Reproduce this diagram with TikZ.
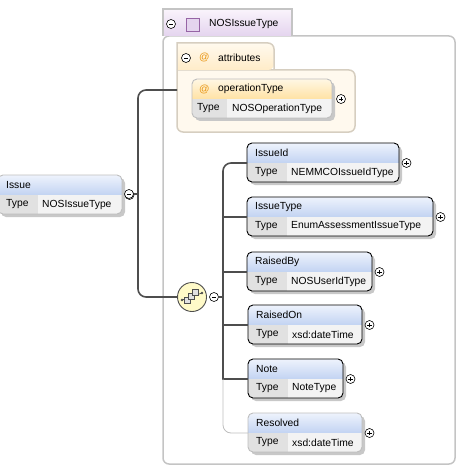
\documentclass[tikz,border=0pt]{standalone}
\usepackage{fontspec}
\setmainfont{Liberation Sans}
\usetikzlibrary{positioning}

\definecolor{hdrtop}{RGB}{238,243,252}
\definecolor{hdrbot}{RGB}{194,211,242}
\definecolor{typecell}{RGB}{225,225,225}
\definecolor{valcell}{RGB}{243,243,243}
\definecolor{shadowgray}{RGB}{200,200,200}
\definecolor{optgray}{RGB}{190,190,190}
\definecolor{connline}{RGB}{78,78,78}
\definecolor{attrtop}{RGB}{255,247,228}
\definecolor{attrbot}{RGB}{255,226,164}
\definecolor{attrtab}{RGB}{255,236,200}
\definecolor{attrfill}{RGB}{255,249,238}
\definecolor{attredge}{RGB}{214,206,192}
\definecolor{atsign}{RGB}{232,150,20}
\definecolor{ctabtop}{RGB}{250,244,252}
\definecolor{ctabbot}{RGB}{228,212,238}
\definecolor{cedge}{RGB}{196,196,196}
\definecolor{seqfill}{RGB}{255,250,200}
\definecolor{iconpurple}{RGB}{150,100,165}

\tikzset{
  conn/.style={connline, line width=1.6pt},
  optconn/.style={optgray, line width=0.8pt},
  lbl/.style={anchor=west, inner sep=0pt, font=\fontsize{10.3}{12}\selectfont},
  toggle/.style={circle, draw, fill=white, inner sep=0pt, minimum size=9pt, line width=0.6pt},
  plusbtn/.style={toggle, path picture={
      \draw[line width=0.6pt] ([xshift=-2.2pt]path picture bounding box.center) -- ([xshift=2.2pt]path picture bounding box.center)
        ([yshift=-2.2pt]path picture bounding box.center) -- ([yshift=2.2pt]path picture bounding box.center);}},
  minusbtn/.style={toggle, path picture={
      \draw[line width=0.6pt] ([xshift=-2.2pt]path picture bounding box.center) -- ([xshift=2.2pt]path picture bounding box.center);}},
}

% element box: name, left, top, right, label, type, border colour
\newcommand{\xelem}[7]{%
  \fill[shadowgray, rounded corners=5pt] (#2+3,#3+3) rectangle (#4+3,#3+42);
  \begin{scope}
    \clip[rounded corners=5pt] (#2,#3) rectangle (#4,#3+39);
    \shade[top color=hdrtop, bottom color=hdrbot] (#2,#3) rectangle (#4,#3+20);
    \fill[typecell] (#2,#3+20) rectangle (#2+40,#3+39);
    \fill[valcell] (#2+40,#3+20) rectangle (#4,#3+39);
  \end{scope}
  \draw[#7, line width=0.9pt, rounded corners=5pt] (#2,#3) rectangle (#4,#3+39);
  \node[lbl] (#1-name) at (#2+8,#3+10) {#5};
  \node[lbl] (#1-tl) at (#2+8,#3+29.5) {Type};
  \node[lbl] (#1-type) at (#2+44,#3+29.5) {#6};
  \coordinate (#1) at (#2,#3+20);
  \node[plusbtn] (#1-plus) at (#4+7.5,#3+20) {};
}

\begin{document}
\begin{tikzpicture}[x=1pt, y=-1pt]
\useasboundingbox (0,0) rectangle (458,468);

% === complex type container ===
\draw[cedge, line width=1.5pt, rounded corners=6pt] (163,36) rectangle (455,464);
\shade[top color=ctabtop, bottom color=ctabbot] (163,9) rectangle (292,36);
\draw[cedge, line width=1.5pt] (163,36) -- (163,9) -- (292,9) -- (292,36);
\node[minusbtn] (ctype-min) at (171,24) {};
\draw[iconpurple, fill=ctabbot, line width=0.8pt] (186,18) rectangle (199,31);
\node[lbl] (ctype) at (209,23.5) {NOSIssueType};

% === attributes group ===
\fill[attrfill] (177,70) [rounded corners=6pt] -- (355,70) -- (355,132) -- (177,132) [sharp corners] -- cycle;
\draw[attredge, line width=1.5pt, rounded corners=6pt] (177,70) -- (355,70) -- (355,132) -- (177,132) -- (177,70);
\shade[top color=attrfill, bottom color=attrtab, rounded corners=6pt] (177,70) [sharp corners] -- (177,43) [rounded corners=6pt] -- (274,43) -- (274,70) [sharp corners] -- cycle;
\draw[attredge, line width=1.5pt] (177,70) -- (177,43) [rounded corners=6pt] -- (274,43) -- (274,70);
\node[minusbtn] (attrs-min) at (186,58) {};
\node[lbl, text=atsign] (attrs-at) at (199,57.5) {@};
\node[lbl] (attrs) at (218,57.5) {attributes};
\coordinate (attrin) at (177,90);

% operationType attribute
\fill[shadowgray, rounded corners=5pt] (195,82) rectangle (335,121);
\begin{scope}
  \clip[rounded corners=5pt] (192,79) rectangle (332,118);
  \shade[top color=attrtop, bottom color=attrbot] (192,79) rectangle (332,99);
  \fill[typecell] (192,99) rectangle (227,118);
  \fill[valcell] (227,99) rectangle (332,118);
\end{scope}
\draw[optgray, line width=0.9pt, rounded corners=5pt] (192,79) rectangle (332,118);
\node[lbl, text=atsign] (optype-at) at (199,89) {@};
\node[lbl] (optype-name) at (218,89) {operationType};
\node[lbl] (optype-tl) at (197,108.5) {Type};
\node[lbl] (optype-type) at (232,108.5) {NOSOperationType};
\node[plusbtn] (optype-plus) at (341,99) {};

% === root element ===
\xelem{issue}{-2}{175}{122}{Issue}{NOSIssueType}{optgray}
\node[minusbtn] (issue-min) at (129,194) {};
\coordinate (trunk) at (138,194);

% === sequence compositor ===
\node[circle, draw=connline, line width=0.9pt, fill=seqfill, minimum size=29pt, inner sep=0pt] (seq) at (192,297) {};
\draw[connline, line width=0.7pt] (182,300) -- (202,293);
\fill[connline] (182,300) circle (1.3pt) (202,293) circle (1.3pt);
\draw[connline, fill=typecell, line width=0.5pt] (184,297) rectangle (190,303);
\draw[connline, fill=typecell, line width=0.5pt] (188,293) rectangle (194,299);
\draw[connline, fill=typecell, line width=0.5pt] (192,289) rectangle (198,295);
\node[minusbtn] (seq-min) at (214,297) {};
\coordinate (fork) at (223,297);

% === child elements ===
\xelem{issueid}{247}{143}{399}{IssueId}{NEMMCOIssueIdType}{black}
\xelem{issuetype}{247}{197}{433}{IssueType}{EnumAssessmentIssueType}{black}
\xelem{raisedby}{247}{252}{372}{RaisedBy}{NOSUserIdType}{black}
\xelem{raisedon}{248}{305}{362}{RaisedOn}{xsd:dateTime}{black}
\xelem{note}{248}{359}{343}{Note}{NoteType}{black}
\xelem{resolved}{248}{413}{362}{Resolved}{xsd:dateTime}{optgray}

% === connectors ===
\draw[conn] (issue-min) -- (trunk);
\draw[conn, rounded corners=8pt] (attrin) -| (trunk) |- (seq.west);
\draw[conn] (seq-min) -- (fork);
\draw[conn, rounded corners=8pt] (issueid) -| (fork);
\draw[conn] (fork) |- (note);
\draw[conn] (fork |- issuetype) -- (issuetype);
\draw[conn] (fork |- raisedby) -- (raisedby);
\draw[conn] (fork |- raisedon) -- (raisedon);
\draw[optconn, rounded corners=8pt] (fork |- note) |- (resolved);

\end{tikzpicture}
\end{document}
